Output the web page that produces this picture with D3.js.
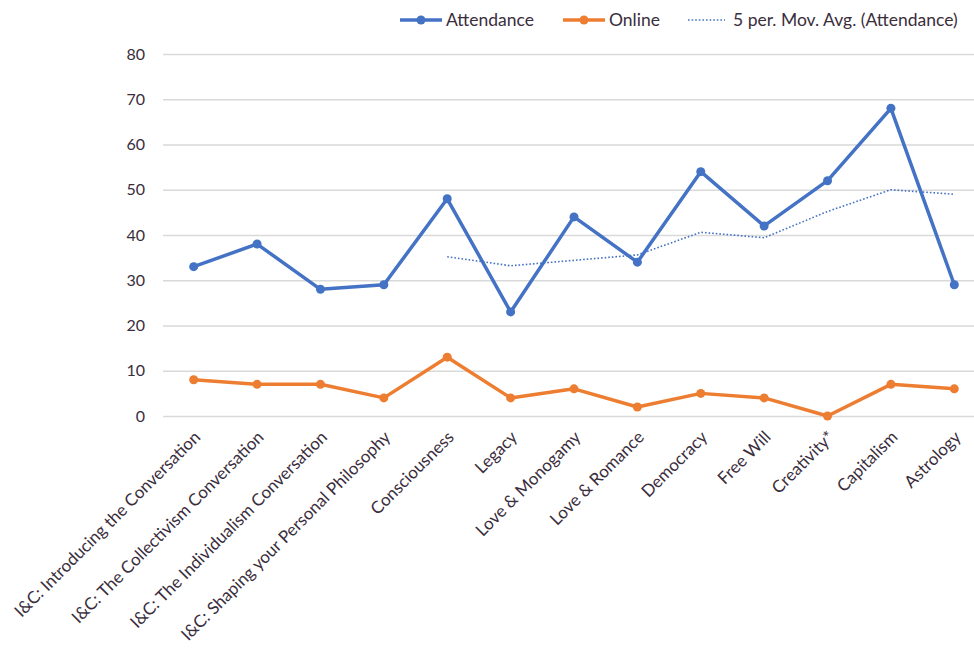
<!DOCTYPE html>
<html>
<head>
<meta charset="utf-8">
<script src="https://cdn.jsdelivr.net/npm/d3@7"></script>
<style>
  body { margin: 0; background: #fff; }
  text { font-family: Lato, "Open Sans", sans-serif; fill: #3a2d3c; }
</style>
</head>
<body>
<div id="chart-area"></div>
<script>
const categories = [
  "I&C: Introducing the Conversation",
  "I&C: The Collectivism Conversation",
  "I&C: The Individualism Conversation",
  "I&C: Shaping your Personal Philosophy",
  "Consciousness", "Legacy", "Love & Monogamy", "Love & Romance",
  "Democracy", "Free Will", "Creativity*", "Capitalism", "Astrology"
]
const attendance = [33, 38, 28, 29, 48, 23, 44, 34, 54, 42, 52, 68, 29]
const online = [8, 7, 7, 4, 13, 4, 6, 2, 5, 4, 0, 7, 6]
// moving average values, starting at the 5th category
const movAvg = [35.2, 33.2, 34.4, 35.6, 40.6, 39.4, 45.2, 50, 49]
const yTicks = [0, 10, 20, 30, 40, 50, 60, 70, 80]

const W = 974, H = 648
const BLUE = "#4472C4", ORANGE = "#ED7D31"

const svg = d3.select('#chart-area').append('svg')
  .attr('width', W)
  .attr('height', H)

const x = d3.scalePoint()
  .domain(categories)
  .range([162, 986])
  .padding(0.5)

const y = d3.scaleLinear()
  .domain([0, 80])
  .range([416, 54])

// gridlines + y labels
const yAxisCall = d3.axisLeft(y)
  .tickValues(yTicks)
  .tickSize(-(974 - 163))
  .tickPadding(18)
const yAxis = svg.append("g")
  .attr("transform", "translate(163, 0)")
  .call(yAxisCall)
yAxis.select(".domain").remove()
yAxis.selectAll("line").attr("stroke", "#d9d9d9").attr("stroke-width", 1.3)
yAxis.selectAll("text").attr("font-size", "16px").style("font-family", "Lato, 'Open Sans', sans-serif")
  .attr("fill", "#3a2d3c")

// x labels
const xAxisCall = d3.axisBottom(x).tickSize(0).tickPadding(0)
const xAxis = svg.append("g")
  .attr("transform", `translate(0, 416)`)
  .call(xAxisCall)
xAxis.select(".domain").remove()
xAxis.selectAll("text")
  .attr("font-size", "17px")
  .style("font-family", "Lato, 'Open Sans', sans-serif")
  .attr("fill", "#3a2d3c")
  .attr("text-anchor", "end")
  .attr("dy", "0.35em")
  .attr("transform", "translate(3, 18) rotate(-45)")

const line = d3.line()
  .x((d, i) => x(categories[i]))
  .y(d => y(d))

function series(data, color) {
  svg.append("path")
    .datum(data)
    .attr("fill", "none")
    .attr("stroke", color)
    .attr("stroke-width", 3.5)
    .attr("stroke-linejoin", "round")
    .attr("d", line)
  svg.selectAll(null).data(data).enter()
    .append("circle")
    .attr("cx", (d, i) => x(categories[i]))
    .attr("cy", d => y(d))
    .attr("r", 4.5)
    .attr("fill", color)
}

series(attendance, BLUE)
series(online, ORANGE)

// moving average
svg.append("path")
  .datum(movAvg)
  .attr("fill", "none")
  .attr("stroke", BLUE)
  .attr("stroke-width", 1.6)
  .attr("stroke-dasharray", "1.6 2")
  .attr("d", d3.line()
    .x((d, i) => x(categories[i + 4]))
    .y(d => y(d)))

// legend
const legend = svg.append("g").attr("transform", "translate(0, 20)")
const items = [
  { label: "Attendance", color: BLUE, x: 400, dotted: false },
  { label: "Online", color: ORANGE, x: 563, dotted: false },
  { label: "5 per. Mov. Avg. (Attendance)", color: BLUE, x: 688, dotted: true }
]
items.forEach(it => {
  legend.append("line")
    .attr("x1", it.x).attr("x2", it.x + (it.dotted ? 37 : 42))
    .attr("y1", 0).attr("y2", 0)
    .attr("stroke", it.color)
    .attr("stroke-width", it.dotted ? 1.6 : 3.5)
    .attr("stroke-dasharray", it.dotted ? "1.6 2" : null)
  if (!it.dotted) {
    legend.append("circle")
      .attr("cx", it.x + 21).attr("cy", 0).attr("r", 4.5)
      .attr("fill", it.color)
  }
  legend.append("text")
    .attr("x", it.x + (it.dotted ? 45 : 46))
    .attr("y", 0)
    .attr("dy", "0.35em")
    .attr("font-size", "17.5px")
    .text(it.label)
})
</script>
</body>
</html>
